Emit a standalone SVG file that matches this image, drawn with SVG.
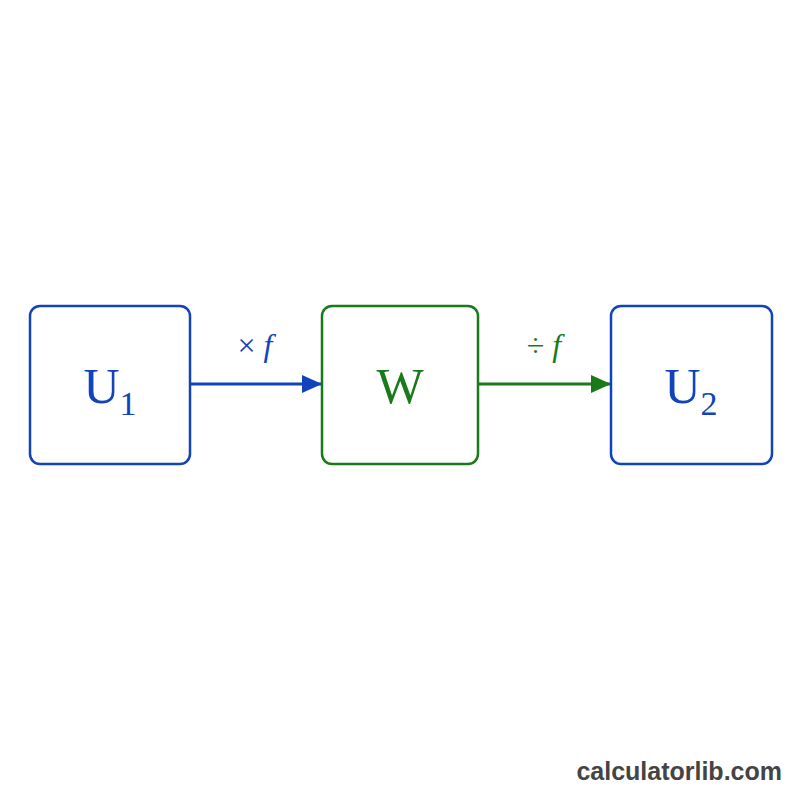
<svg xmlns="http://www.w3.org/2000/svg" width="800" height="800" viewBox="0 0 800 800">
<defs>
<style>
.box{fill:#fff;stroke-width:2.5}
.b{stroke:#1144bb}.g{stroke:#1a7a1a}
.t{font-family:"Liberation Serif",serif;font-size:50px;text-anchor:middle}
.l{font-family:"Liberation Serif",serif;font-size:32px;text-anchor:middle}
</style>
<marker id="ab" markerWidth="20" markerHeight="18" refX="20" refY="9" orient="auto" markerUnits="userSpaceOnUse" viewBox="0 0 20 18"><path d="M0,0L20,9L0,18z" fill="#1144bb"/></marker>
<marker id="ag" markerWidth="20" markerHeight="18" refX="20" refY="9" orient="auto" markerUnits="userSpaceOnUse" viewBox="0 0 20 18"><path d="M0,0L20,9L0,18z" fill="#1a7a1a"/></marker>
</defs>
<rect width="800" height="800" fill="#fff"/>
<g id="connectors">
<line x1="190" y1="384" x2="322" y2="384" stroke="#1144bb" stroke-width="3" marker-end="url(#ab)"/>
<line x1="478" y1="384" x2="611" y2="384" stroke="#1a7a1a" stroke-width="3" marker-end="url(#ag)"/>
<text class="l" x="255" y="356" fill="#1144bb">× <tspan font-style="italic">f</tspan></text>
<text class="l" x="544" y="356" fill="#1a7a1a">÷ <tspan font-style="italic">f</tspan></text>
</g>
<g id="U1"><rect class="box b" x="30" y="306" width="160" height="158" rx="10"/><text class="t" x="110" y="403" fill="#1144bb">U<tspan font-size="34" dy="12">1</tspan></text></g>
<g id="W"><rect class="box g" x="322" y="306" width="156" height="158" rx="10"/><text class="t" x="400" y="403" fill="#1a7a1a">W</text></g>
<g id="U2"><rect class="box b" x="611" y="306" width="161" height="158" rx="10"/><text class="t" x="691" y="403" fill="#1144bb">U<tspan font-size="34" dy="12">2</tspan></text></g>
<text x="782" y="780" text-anchor="end" font-family="Liberation Sans,sans-serif" font-weight="bold" font-size="25" fill="#444">calculatorlib.com</text>
</svg>
